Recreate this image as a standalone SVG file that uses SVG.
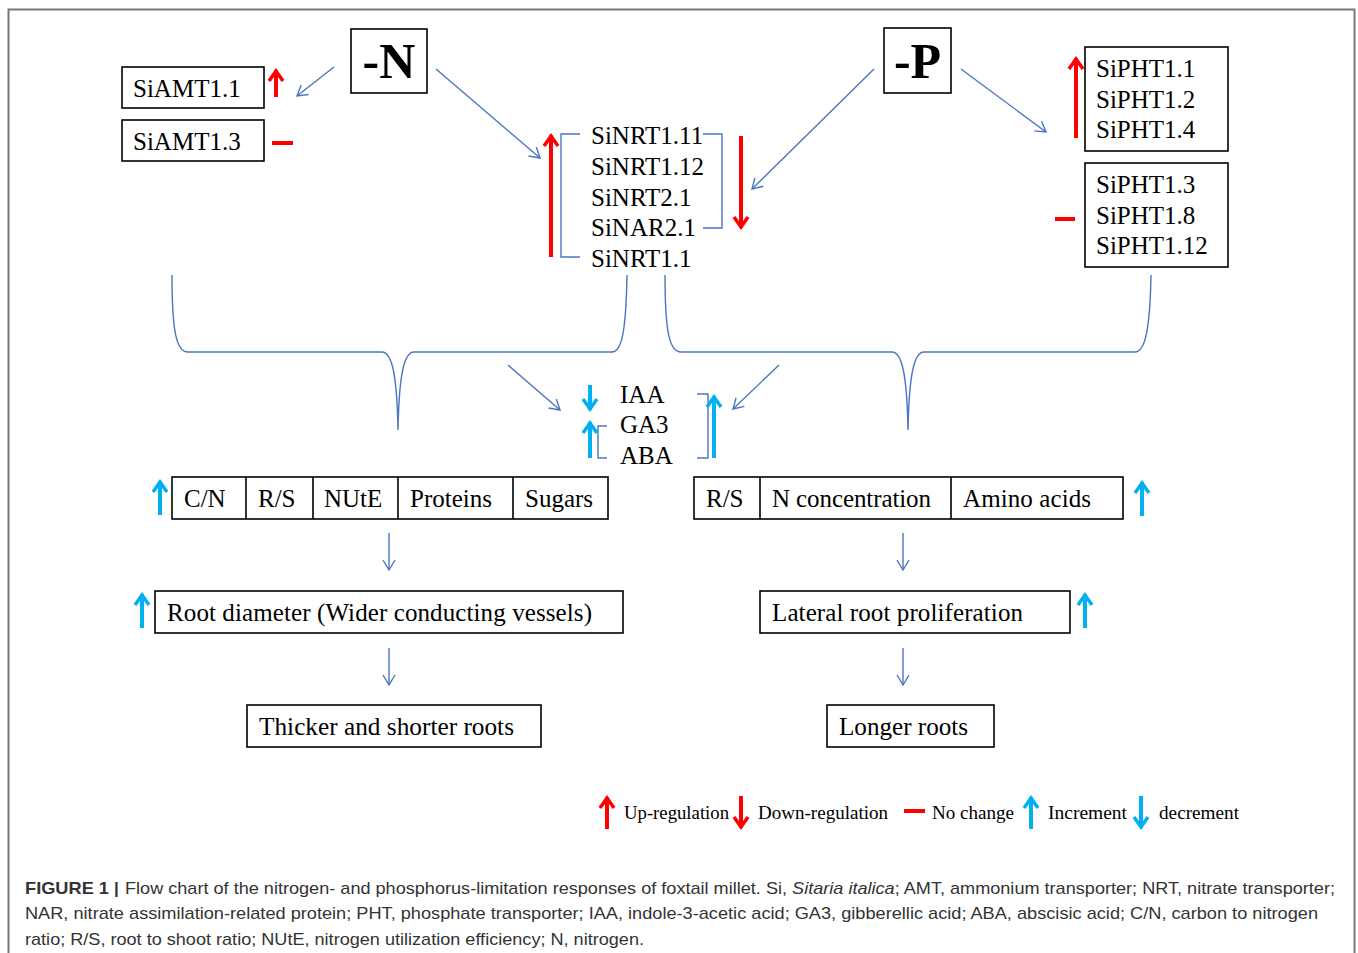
<svg xmlns="http://www.w3.org/2000/svg" width="1358" height="953" viewBox="0 0 1358 953">
<defs>
<style>
.box{fill:#fff;stroke:#000;stroke-width:1.6}
.t{font-family:"Liberation Serif","Times New Roman",serif;font-size:25px;fill:#000}
.big{font-family:"Liberation Serif","Times New Roman",serif;font-size:50px;font-weight:bold;fill:#000}
.con{fill:none;stroke:#4a76c0;stroke-width:1.4}
.red{fill:none;stroke:#ff0000;stroke-width:4}
.cy{fill:none;stroke:#00b0f0;stroke-width:4}
.leg{font-family:"Liberation Serif","Times New Roman",serif;font-size:19px;fill:#000}
.cap{font-family:"Liberation Sans",Arial,sans-serif;font-size:17px;fill:#333}
</style>
<marker id="ah" markerUnits="userSpaceOnUse" markerWidth="14" markerHeight="14" viewBox="0 0 14 14" refX="13" refY="7" orient="auto">
<path d="M3,1 L13,7 L3,13" fill="none" stroke="#4a76c0" stroke-width="1.4"/>
</marker>
<marker id="rh" markerUnits="userSpaceOnUse" markerWidth="16" markerHeight="18" viewBox="0 0 16 18" refX="14" refY="9" orient="auto">
<path d="M3,2 L13,9 L3,16" fill="none" stroke="#ff0000" stroke-width="3.5"/>
</marker>
<marker id="ch" markerUnits="userSpaceOnUse" markerWidth="16" markerHeight="18" viewBox="0 0 16 18" refX="14" refY="9" orient="auto">
<path d="M3,2 L13,9 L3,16" fill="none" stroke="#00b0f0" stroke-width="3.5"/>
</marker>
</defs>
<rect width="1358" height="953" fill="#fff"/>
<path d="M8.5,975 L8.5,9.5 L1354.5,9.5 L1354.5,975" fill="none" stroke="#777" stroke-width="2"/>

<g id="nodeN"><rect class="box" x="351" y="29" width="76" height="64"/><text class="big" x="389" y="78" text-anchor="middle">-N</text></g>
<g id="nodeP"><rect class="box" x="884" y="28" width="67" height="65"/><text class="big" x="917.5" y="78" text-anchor="middle">-P</text></g>
<g id="amt11"><rect class="box" x="122" y="67" width="142" height="41"/><text class="t" x="133" y="97">SiAMT1.1</text></g>
<g id="amt13"><rect class="box" x="122" y="120" width="142" height="41"/><text class="t" x="133" y="150">SiAMT1.3</text></g>
<g id="nrt">
<text class="t" x="591" y="144" font-size="24.5">SiNRT1.11</text>
<text class="t" x="591" y="175" font-size="24.5">SiNRT1.12</text>
<text class="t" x="591" y="206" font-size="24.5">SiNRT2.1</text>
<text class="t" x="591" y="236" font-size="24.5">SiNAR2.1</text>
<text class="t" x="591" y="267" font-size="24.5">SiNRT1.1</text>
</g>
<g id="pht1"><rect class="box" x="1085" y="47" width="143" height="104"/>
<text class="t" x="1096" y="77">SiPHT1.1</text><text class="t" x="1096" y="108">SiPHT1.2</text><text class="t" x="1096" y="138">SiPHT1.4</text></g>
<g id="pht2"><rect class="box" x="1085" y="163" width="143" height="104"/>
<text class="t" x="1096" y="193">SiPHT1.3</text><text class="t" x="1096" y="224">SiPHT1.8</text><text class="t" x="1096" y="254">SiPHT1.12</text></g>
<g id="hormones">
<text class="t" x="620" y="403" font-size="24">IAA</text>
<text class="t" x="620" y="433" font-size="24">GA3</text>
<text class="t" x="620" y="464" font-size="24">ABA</text>
</g>
<g id="rowLeft">
<rect class="box" x="172" y="477" width="436" height="42"/>
<path d="M246,477V519M313,477V519M398,477V519M513,477V519" stroke="#000" stroke-width="1.6"/>
<text class="t" x="184" y="507">C/N</text><text class="t" x="258" y="507">R/S</text><text class="t" x="324" y="507">NUtE</text><text class="t" x="410" y="507">Proteins</text><text class="t" x="525" y="507">Sugars</text>
</g>
<g id="rowRight">
<rect class="box" x="694" y="477" width="429" height="42"/>
<path d="M760,477V519M951,477V519" stroke="#000" stroke-width="1.6"/>
<text class="t" x="706" y="507">R/S</text><text class="t" x="772" y="507" textLength="159" lengthAdjust="spacing">N concentration</text><text class="t" x="963" y="507" textLength="128" lengthAdjust="spacing">Amino acids</text>
</g>
<g id="rootDiam"><rect class="box" x="155" y="591" width="468" height="42"/><text class="t" x="167" y="621" textLength="425" lengthAdjust="spacing">Root diameter (Wider conducting vessels)</text></g>
<g id="lateral"><rect class="box" x="760" y="591" width="310" height="42"/><text class="t" x="772" y="621" textLength="251" lengthAdjust="spacing">Lateral root proliferation</text></g>
<g id="thicker"><rect class="box" x="247" y="705" width="294" height="42"/><text class="t" x="259" y="735" textLength="255" lengthAdjust="spacingAndGlyphs">Thicker and shorter roots</text></g>
<g id="longer"><rect class="box" x="827" y="705" width="167" height="42"/><text class="t" x="839" y="735" textLength="129" lengthAdjust="spacingAndGlyphs">Longer roots</text></g>

<g id="connectors">
<line class="con" x1="334" y1="67" x2="297" y2="96" marker-end="url(#ah)"/>
<line class="con" x1="436" y1="69" x2="540" y2="158" marker-end="url(#ah)"/>
<line class="con" x1="874" y1="69" x2="752" y2="189" marker-end="url(#ah)"/>
<line class="con" x1="961" y1="69" x2="1046" y2="132" marker-end="url(#ah)"/>
<path class="con" d="M580,134 H561 V257 H580"/>
<path class="con" d="M703,134 H722 V228 H703"/>
<path class="con" d="M172,275 C172,330 176,352 188,352 L382,352 C393,352 397,380 398,430 C399,380 403,352 414,352 L612,352 C622,352 626,330 627,275"/>
<path class="con" d="M665,275 C665,330 669,352 681,352 L892,352 C903,352 907,380 908,430 C909,380 913,352 924,352 L1135,352 C1145,352 1150,330 1151,275"/>
<line class="con" x1="508" y1="365" x2="560" y2="410" marker-end="url(#ah)"/>
<line class="con" x1="779" y1="365" x2="733" y2="409" marker-end="url(#ah)"/>
<path class="con" d="M607,426 H598 V458 H607"/>
<path class="con" d="M697,394 H708 V458 H697"/>
<line class="con" x1="389" y1="533" x2="389" y2="570" marker-end="url(#ah)"/>
<line class="con" x1="903" y1="533" x2="903" y2="570" marker-end="url(#ah)"/>
<line class="con" x1="389" y1="648" x2="389" y2="685" marker-end="url(#ah)"/>
<line class="con" x1="903" y1="648" x2="903" y2="685" marker-end="url(#ah)"/>
</g>

<g id="regulation">
<line class="red" x1="276" y1="97" x2="276" y2="70" marker-end="url(#rh)"/>
<line class="red" x1="272" y1="143" x2="293" y2="143"/>
<line class="red" x1="551" y1="257" x2="551" y2="135" marker-end="url(#rh)"/>
<line class="red" x1="741" y1="136" x2="741" y2="228" marker-end="url(#rh)"/>
<line class="red" x1="1076" y1="138" x2="1076" y2="58" marker-end="url(#rh)"/>
<line class="red" x1="1055" y1="219" x2="1075" y2="219"/>
<line class="cy" x1="590" y1="385" x2="590" y2="410" marker-end="url(#ch)"/>
<line class="cy" x1="590" y1="458" x2="590" y2="422" marker-end="url(#ch)"/>
<line class="cy" x1="714" y1="458" x2="714" y2="396" marker-end="url(#ch)"/>
<line class="cy" x1="160" y1="515" x2="160" y2="481" marker-end="url(#ch)"/>
<line class="cy" x1="1142" y1="516" x2="1142" y2="482" marker-end="url(#ch)"/>
<line class="cy" x1="142" y1="628" x2="142" y2="594" marker-end="url(#ch)"/>
<line class="cy" x1="1085" y1="628" x2="1085" y2="594" marker-end="url(#ch)"/>
</g>

<g id="legend">
<line class="red" x1="607" y1="829" x2="607" y2="797" marker-end="url(#rh)"/>
<text class="leg" x="624" y="819" textLength="105" lengthAdjust="spacingAndGlyphs">Up-regulation</text>
<line class="red" x1="741" y1="796" x2="741" y2="828" marker-end="url(#rh)"/>
<text class="leg" x="758" y="819" textLength="130" lengthAdjust="spacingAndGlyphs">Down-regulation</text>
<line class="red" x1="904" y1="811" x2="925" y2="811"/>
<text class="leg" x="932" y="819" textLength="82" lengthAdjust="spacingAndGlyphs">No change</text>
<line class="cy" x1="1031" y1="829" x2="1031" y2="797" marker-end="url(#ch)"/>
<text class="leg" x="1048" y="819" textLength="79" lengthAdjust="spacingAndGlyphs">Increment</text>
<line class="cy" x1="1141" y1="796" x2="1141" y2="828" marker-end="url(#ch)"/>
<text class="leg" x="1159" y="819" textLength="80" lengthAdjust="spacingAndGlyphs">decrement</text>
</g>

<g id="caption">
<text class="cap" x="25" y="894" font-weight="bold" fill="#222" textLength="84" lengthAdjust="spacingAndGlyphs">FIGURE 1</text>
<text class="cap" x="114" y="894" fill="#222" font-weight="bold">|</text>
<text class="cap" x="125" y="894" textLength="1210" lengthAdjust="spacingAndGlyphs">Flow chart of the nitrogen- and phosphorus-limitation responses of foxtail millet. Si, <tspan font-style="italic">Sitaria italica</tspan>; AMT, ammonium transporter; NRT, nitrate transporter;</text>
<text class="cap" x="25" y="919" textLength="1293" lengthAdjust="spacingAndGlyphs">NAR, nitrate assimilation-related protein; PHT, phosphate transporter; IAA, indole-3-acetic acid; GA3, gibberellic acid; ABA, abscisic acid; C/N, carbon to nitrogen</text>
<text class="cap" x="25" y="945" textLength="619" lengthAdjust="spacingAndGlyphs">ratio; R/S, root to shoot ratio; NUtE, nitrogen utilization efficiency; N, nitrogen.</text>
</g>
</svg>
